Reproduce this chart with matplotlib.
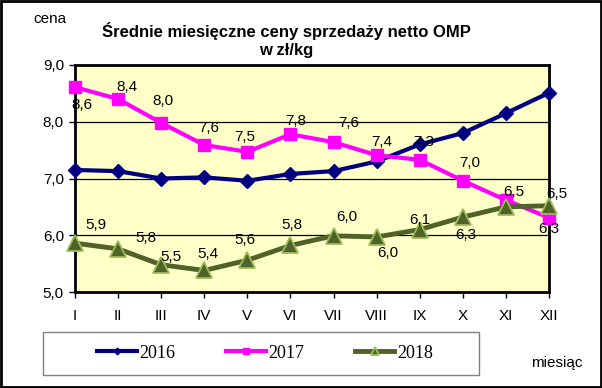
import numpy as np
import matplotlib.pyplot as plt
from matplotlib.patches import Rectangle

# -----------------------------
# Data
# -----------------------------

months = ["I", "II", "III", "IV", "V", "VI",
          "VII", "VIII", "IX", "X", "XI", "XII"]

y2016 = [7.15, 7.13, 7.00, 7.02, 6.96, 7.08,
         7.13, 7.30, 7.60, 7.80, 8.15, 8.51]

y2017 = [8.61, 8.40, 7.98, 7.59, 7.47, 7.78,
         7.64, 7.41, 7.33, 6.96, 6.62, 6.31]

y2018 = [5.86, 5.76, 5.48, 5.38, 5.56, 5.82,
         5.99, 5.97, 6.10, 6.32, 6.50, 6.52]

# label offsets in pixels (dx, dy), None = no label
off2017 = [(7, -18), (9, 12), (2, 22), (4, 17), (-3, 15), (5, 13),
           (15, 19), (5, 13), (4, 18), (7, 18), None, (0, -11)]
off2018 = [(21, 18), (28, 11), (10, 8), (4, 16), (-2, 20), (1, 20),
           (13, 19), (11, -16), (0, 10), (3, -18), (8, 15), (8, 12)]

# -----------------------------
# Figure
# -----------------------------

fig = plt.figure(figsize=(6.02, 3.88), dpi=100)
ax = fig.add_axes([75 / 602, 1 - 292 / 388, 474 / 602, 227 / 388])
ax.set_facecolor("#FFFFC8")

x = np.arange(len(months))

ax.plot(x, y2016, color="#000080", lw=3, marker="D", ms=7.5,
        mfc="#000080", mec="#000080", clip_on=False, zorder=4, label="2016")
ax.plot(x, y2017, color="#FF00FF", lw=3, marker="s", ms=8.5,
        mfc="#FF00FF", mec="#FF00FF", clip_on=False, zorder=4, label="2017")
ax.plot(x, y2018, color="#4F6228", lw=3.5, marker="^", ms=11.5,
        mfc="#4F6228", mec="#9BBB59", mew=1.3, clip_on=False, zorder=5,
        label="2018")

def fmt(v):
    return f"{v:.1f}".replace(".", ",")

for vals, offs in [(y2017, off2017), (y2018, off2018)]:
    for i, v in enumerate(vals):
        if offs[i] is None:
            continue
        ax.annotate(fmt(v), (x[i], v), xytext=offs[i],
                    textcoords="offset pixels", ha="center", va="center",
                    fontsize=11, family="Liberation Sans", zorder=6,
                    annotation_clip=False)

ax.set_xlim(0, 11)
ax.set_ylim(5, 9)
ax.set_yticks([5, 6, 7, 8, 9])
ax.set_yticklabels([fmt(v) for v in [5, 6, 7, 8, 9]],
                   fontsize=11, family="Liberation Sans")
ax.set_xticks(x)
ax.set_xticklabels(months, fontsize=11, family="Liberation Sans")
ax.tick_params(axis="both", direction="out", length=4, width=1)
ax.tick_params(axis="x", pad=8)
ax.tick_params(axis="y", pad=4)

for v in [6, 7, 8]:
    ax.axhline(v, color="black", lw=0.9, zorder=1)

for s in ax.spines.values():
    s.set_linewidth(2)
    s.set_color("black")

# -----------------------------
# Text
# -----------------------------

fig.text(286 / 602, 1 - 31 / 388,
         "Średnie miesięczne ceny sprzedaży netto OMP",
         ha="center", va="center", fontsize=12, fontweight="bold",
         family="Liberation Sans")
fig.text(286 / 602, 1 - 50 / 388, "w zł/kg",
         ha="center", va="center", fontsize=12, fontweight="bold",
         family="Liberation Sans")
fig.text(50 / 602, 1 - 19 / 388, "cena", ha="center", va="center",
         fontsize=11, family="Liberation Sans")
fig.text(557 / 602, 1 - 363 / 388, "miesiąc", ha="center", va="center",
         fontsize=11, family="Liberation Sans")

# -----------------------------
# Legend
# -----------------------------

fig.patches.append(Rectangle((43 / 602, 1 - 375 / 388), 436 / 602, 43 / 388,
                             transform=fig.transFigure, fill=False,
                             edgecolor="#808080", lw=1))

fig.legend(loc="center", bbox_to_anchor=(265 / 602, 1 - 353 / 388),
           ncol=3, frameon=False, prop={"family": "Liberation Serif",
                                        "size": 13},
           handlelength=2.2, handletextpad=0.15, columnspacing=2.8,
           markerscale=0.45)

fig.patches.append(Rectangle((0.002, 0.003), 0.996, 0.994,
                             transform=fig.transFigure, fill=False,
                             edgecolor="black", lw=2))

fig.savefig("out.png", dpi=100)
